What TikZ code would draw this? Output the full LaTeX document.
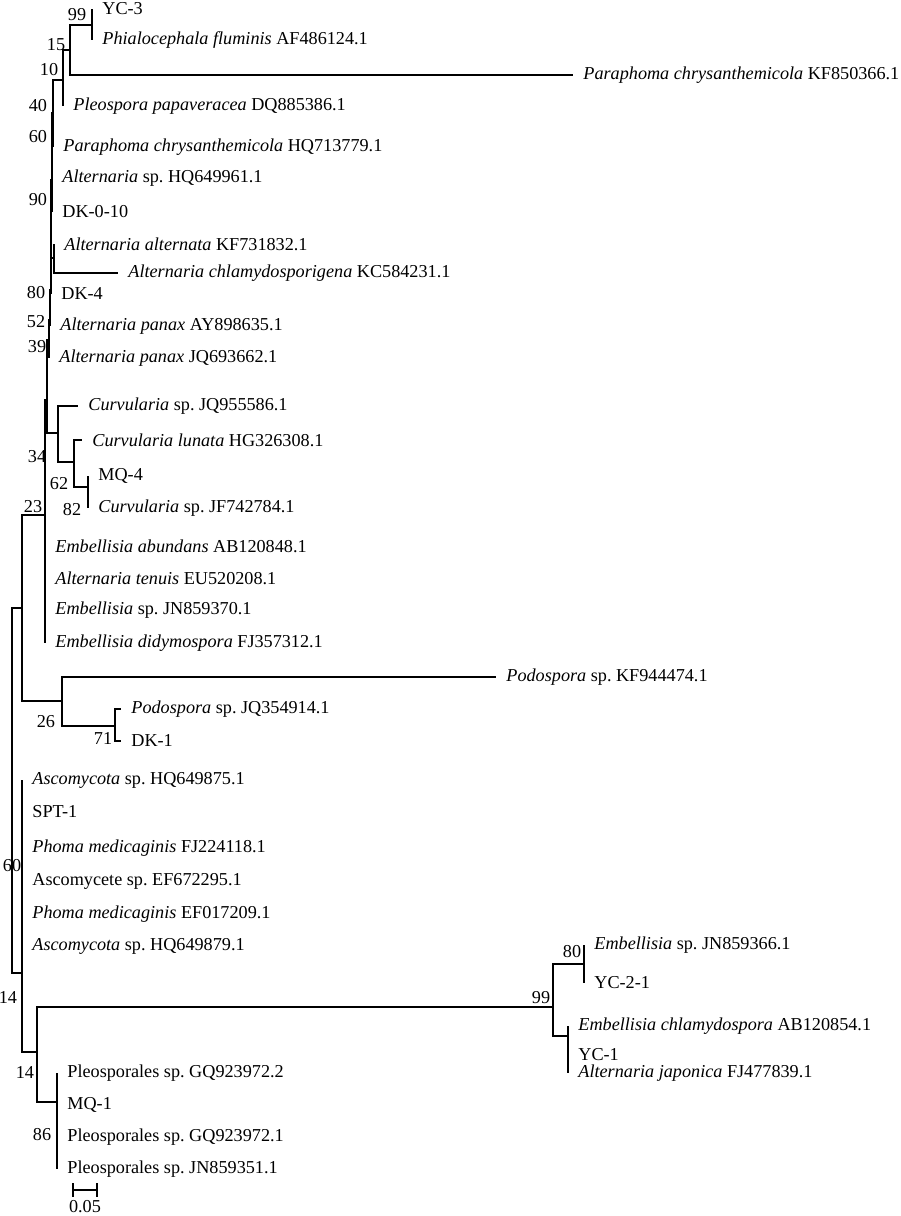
\documentclass[tikz,border=0pt]{standalone}
\usepackage{fontspec}
\setmainfont{Liberation Serif}
\usepackage{tikz}
\frenchspacing

\tikzset{
    tip/.style={anchor=west, inner xsep=5pt, inner ysep=1pt, font=\fontsize{9.1}{11}\selectfont},
    bs/.style={inner sep=0pt, font=\fontsize{9.1}{11}\selectfont},
    branch/.style={line width=0.9pt}
}

\begin{document}
\begin{tikzpicture}[x=0.5pt, y=-0.5pt]
            \useasboundingbox (0,0) rectangle (900,1216);
            % inner nodes of the tree
            \coordinate (n99) at (92,25);
            \coordinate (n15) at (70,50);
            \coordinate (n10) at (63,80);
            \coordinate (n40) at (53,113);
            \coordinate (n60) at (52,146);
            \coordinate (n90) at (52,180);
            \coordinate (nAlt) at (54,258);
            \coordinate (n80) at (51,290);
            \coordinate (n52) at (50,320);
            \coordinate (n39) at (49,340);
            \coordinate (n34) at (47,400);
            \coordinate (nCur) at (58,433);
            \coordinate (n62) at (74,462);
            \coordinate (n82) at (88,487);
            \coordinate (n23) at (45,515);
            \coordinate (n26) at (62,701);
            \coordinate (n71) at (115,726);
            \coordinate (nA) at (22,608);
            \coordinate (root) at (12,790);
            \coordinate (nB) at (22,973);
            \coordinate (nC) at (37,1052);
            \coordinate (n86) at (57,1102);
            \coordinate (n99b) at (553,1007);
            \coordinate (n80b) at (584,964);
            \coordinate (nYC) at (568,1036);

            % taxa
            \node[tip] (yc3) at (92,9) {YC-3};
            \node[tip] (phial) at (92,40) {\textit{Phialocephala fluminis} AF486124.1};
            \node[tip] (paraKF) at (573,75) {\textit{Paraphoma chrysanthemicola} KF850366.1};
            \node[tip] (pleoPap) at (63,106) {\textit{Pleospora papaveracea} DQ885386.1};
            \node[tip] (paraHQ) at (53,147) {\textit{Paraphoma chrysanthemicola} HQ713779.1};
            \node[tip] (altHQ) at (52,178) {\textit{Alternaria} sp. HQ649961.1};
            \node[tip] (dk010) at (52,212) {DK-0-10};
            \node[tip] (altAlt) at (54,244) {\textit{Alternaria alternata} KF731832.1};
            \node[tip] (altChl) at (118,273) {\textit{Alternaria chlamydosporigena} KC584231.1};
            \node[tip] (dk4) at (51,294) {DK-4};
            \node[tip] (panAY) at (50,326) {\textit{Alternaria panax} AY898635.1};
            \node[tip] (panJQ) at (49,358) {\textit{Alternaria panax} JQ693662.1};
            \node[tip] (curJQ) at (78,406) {\textit{Curvularia} sp. JQ955586.1};
            \node[tip] (curLun) at (82,440) {\textit{Curvularia lunata} HG326308.1};
            \node[tip] (mq4) at (88,476) {MQ-4};
            \node[tip] (curJF) at (88,508) {\textit{Curvularia} sp. JF742784.1};
            \node[tip] (embAb) at (45,546) {\textit{Embellisia abundans} AB120848.1};
            \node[tip] (altTen) at (45,578) {\textit{Alternaria tenuis} EU520208.1};
            \node[tip] (embSp) at (45,610) {\textit{Embellisia} sp. JN859370.1};
            \node[tip] (embDid) at (45,643) {\textit{Embellisia didymospora} FJ357312.1};
            \node[tip] (podKF) at (496,677) {\textit{Podospora} sp. KF944474.1};
            \node[tip] (podJQ) at (121,709) {\textit{Podospora} sp. JQ354914.1};
            \node[tip] (dk1) at (121,741) {DK-1};
            \node[tip] (ascoA) at (22,780) {\textit{Ascomycota} sp. HQ649875.1};
            \node[tip] (spt1) at (22,812) {SPT-1};
            \node[tip] (phoA) at (22,848) {\textit{Phoma medicaginis} FJ224118.1};
            \node[tip] (ascete) at (22,881) {Ascomycete sp. EF672295.1};
            \node[tip] (phoB) at (22,914) {\textit{Phoma medicaginis} EF017209.1};
            \node[tip] (ascoB) at (22,946) {\textit{Ascomycota} sp. HQ649879.1};
            \node[tip] (embJN) at (584,945) {\textit{Embellisia} sp. JN859366.1};
            \node[tip] (yc21) at (584,983) {YC-2-1};
            \node[tip] (embChl) at (568,1026) {\textit{Embellisia chlamydospora} AB120854.1};
            \node[tip] (yc1) at (568,1055) {YC-1};
            \node[tip] (altJap) at (568,1073) {\textit{Alternaria japonica} FJ477839.1};
            \node[tip] (pleoA) at (57,1073) {Pleosporales sp. GQ923972.2};
            \node[tip] (mq1) at (57,1105) {MQ-1};
            \node[tip] (pleoB) at (57,1137) {Pleosporales sp. GQ923972.1};
            \node[tip] (pleoC) at (57,1169) {Pleosporales sp. JN859351.1};

            % branches
            \draw[branch] (n99) |- (yc3.west) (n99) |- (phial.west);
            \draw[branch] (n15) |- (n99) (n15) |- (paraKF.west);
            \draw[branch] (n10) |- (n15) (n10) |- (pleoPap.west);
            \draw[branch] (n40) |- (n10) (n40) |- (paraHQ.west);
            \draw[branch] (n60) |- (n40) (n60) |- (altHQ.west);
            \draw[branch] (n90) |- (n60) (n90) |- (dk010.west);
            \draw[branch] (nAlt) |- (altAlt.west) (nAlt) |- (altChl.west);
            \draw[branch] (n80) |- (n90) (n80) |- (nAlt) (n80) |- (dk4.west);
            \draw[branch] (n52) |- (n80) (n52) |- (panAY.west);
            \draw[branch] (n39) |- (n52) (n39) |- (panJQ.west);
            \draw[branch] (n34) |- (n39) (n34) |- (nCur);
            \draw[branch] (nCur) |- (curJQ.west) (nCur) |- (n62);
            \draw[branch] (n62) |- (curLun.west) (n62) |- (n82);
            \draw[branch] (n82) |- (mq4.west) (n82) |- (curJF.west);
            \draw[branch] (n23) |- (n34) (n23) |- (embDid.west);
            \draw[branch] (n71) |- (podJQ.west) (n71) |- (dk1.west);
            \draw[branch] (n26) |- (podKF.west) (n26) |- (n71);
            \draw[branch] (nA) |- (n23) (nA) |- (n26);
            \draw[branch] (root) |- (nA) (root) |- (nB);
            \draw[branch] (nB) |- (ascoA.west) (nB) |- (nC);
            \draw[branch] (nC) |- (n99b) (nC) |- (n86);
            \draw[branch] (n86) |- (pleoA.west) (n86) |- (pleoC.west);
            \draw[branch] (n99b) |- (n80b) (n99b) |- (nYC);
            \draw[branch] (n80b) |- (embJN.west) (n80b) |- (yc21.west);
            \draw[branch] (nYC) |- (embChl.west) (nYC) |- (altJap.west);

            % bootstrap values
            \node[bs] at (77,15) {99};
            \node[bs] at (56,45) {15};
            \node[bs] at (49,70) {10};
            \node[bs] at (38,106) {40};
            \node[bs] at (38,137) {60};
            \node[bs] at (38,200) {90};
            \node[bs] at (36,293) {80};
            \node[bs] at (36,322) {52};
            \node[bs] at (37,347) {39};
            \node[bs] at (37,457) {34};
            \node[bs] at (59,484) {62};
            \node[bs] at (72,510) {82};
            \node[bs] at (33,507) {23};
            \node[bs] at (46,722) {26};
            \node[bs] at (103,738) {71};
            \node[bs] at (12,866) {60};
            \node[bs] at (8,997) {14};
            \node[bs] at (25,1072) {14};
            \node[bs] at (42,1135) {86};
            \node[bs] at (541,998) {99};
            \node[bs] at (572,952) {80};

            % scale bar
            \coordinate (sbL) at (73,1190);
            \coordinate (sbR) at (97,1190);
            \draw[branch] (sbL) -- (sbR);
            \draw[branch] ([yshift=3.5pt]sbL) -- ([yshift=-3.5pt]sbL);
            \draw[branch] ([yshift=3.5pt]sbR) -- ([yshift=-3.5pt]sbR);
            \node[bs] (sbText) at (85,1207) {0.05};
\end{tikzpicture}
\end{document}
